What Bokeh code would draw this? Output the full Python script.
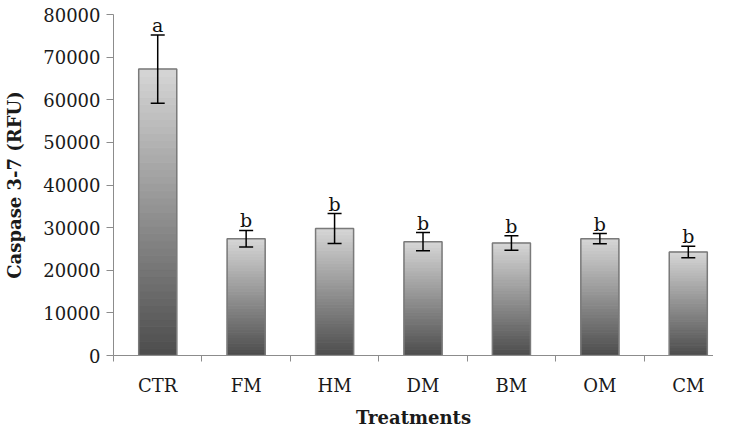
from bokeh.plotting import figure
from bokeh.models import Range1d, FixedTicker, Whisker, ColumnDataSource, TeeHead
from bokeh.core.properties import value
from bokeh.embed import file_html
from bokeh.resources import INLINE

# ---- data ----
categories = ["CTR", "FM", "HM", "DM", "BM", "OM", "CM"]
means = [67200, 27400, 29800, 26700, 26400, 27400, 24300]
errors = [8000, 1950, 3500, 2150, 1700, 1200, 1350]
letters = ["a", "b", "b", "b", "b", "b", "b"]
y_ticks = [0, 10000, 20000, 30000, 40000, 50000, 60000, 70000, 80000]

FONT = "DejaVu Serif"
n = len(categories)
xs = [i + 0.5 for i in range(n)]
bar_w = 0.43

p = figure(width=713, height=430, output_backend="svg", toolbar_location=None,
           x_range=Range1d(0, 6.785), y_range=Range1d(0, 80000),
           min_border_left=113, min_border_right=0, min_border_top=14,
           min_border_bottom=60)
p.outline_line_color = None
p.grid.visible = False
p.background_fill_color = "white"

# gradient-shaded bars (light top -> dark bottom), sliced from each bar's value
N = 40
top_rgb = (214, 214, 214)
bot_rgb = (76, 76, 76)
L, R, B, T, C = [], [], [], [], []
for x, v in zip(xs, means):
    for k in range(N):
        f = (k + 0.5) / N
        rgb = tuple(int(round(bot_rgb[j] + (top_rgb[j] - bot_rgb[j]) * f)) for j in range(3))
        L.append(x - bar_w / 2)
        R.append(x + bar_w / 2)
        B.append(v * k / N)
        T.append(v * (k + 1) / N)
        C.append("#%02x%02x%02x" % rgb)
p.quad(left=L, right=R, bottom=B, top=T, fill_color=C, line_color=C, line_width=1)
# darker side edges to mimic the bevel
p.vbar(x=xs, width=bar_w, top=means, fill_color=None, line_color="#7a7a7a", line_width=1.5)

# error bars
upper = [m + e for m, e in zip(means, errors)]
lower = [m - e for m, e in zip(means, errors)]
src = ColumnDataSource(dict(x=xs, upper=upper, lower=lower, letters=letters))
w = Whisker(base="x", upper="upper", lower="lower", source=src,
            line_color="black", line_width=1.5, level="overlay",
            upper_head=TeeHead(size=14, line_color="black", line_width=1.5),
            lower_head=TeeHead(size=14, line_color="black", line_width=1.5))
p.add_layout(w)

# significance letters
p.text(x="x", y="upper", text="letters", source=src, text_align="center",
       text_baseline="alphabetic", y_offset=-10, text_font=value(FONT),
       text_font_size="19px", text_color="#111111")

# x axis
xa = p.xaxis[0]
xa.ticker = FixedTicker(ticks=xs, minor_ticks=list(range(0, n + 1)))
xa.major_label_overrides = {x: c for x, c in zip(xs, categories)}
xa.major_tick_out = 0
xa.major_tick_in = 0
xa.minor_tick_out = 6
xa.minor_tick_in = 0
xa.minor_tick_line_color = "#8c8c8c"
xa.axis_line_color = "#8c8c8c"
xa.major_label_text_font = FONT
xa.major_label_text_font_size = "18px"
xa.major_label_text_color = "#1a1a1a"
xa.major_label_standoff = 13
xa.axis_label = "Treatments"
xa.axis_label_text_font = FONT
xa.axis_label_text_font_style = "bold"
xa.axis_label_text_font_size = "18px"
xa.axis_label_text_color = "#1a1a1a"
xa.axis_label_standoff = 8

# y axis
ya = p.yaxis[0]
ya.ticker = FixedTicker(ticks=y_ticks)
ya.formatter.use_scientific = False
ya.major_tick_out = 7
ya.major_tick_in = 0
ya.minor_tick_out = 0
ya.minor_tick_in = 0
ya.major_tick_line_color = "#8c8c8c"
ya.axis_line_color = "#8c8c8c"
ya.major_label_text_font = FONT
ya.major_label_text_font_size = "18px"
ya.major_label_text_color = "#1a1a1a"
ya.major_label_standoff = 6
ya.axis_label = "Caspase 3-7 (RFU)"
ya.axis_label_text_font = FONT
ya.axis_label_text_font_style = "bold"
ya.axis_label_text_font_size = "18px"
ya.axis_label_text_color = "#1a1a1a"
ya.axis_label_standoff = 15

open("out.html", "w").write(file_html(p, INLINE))
